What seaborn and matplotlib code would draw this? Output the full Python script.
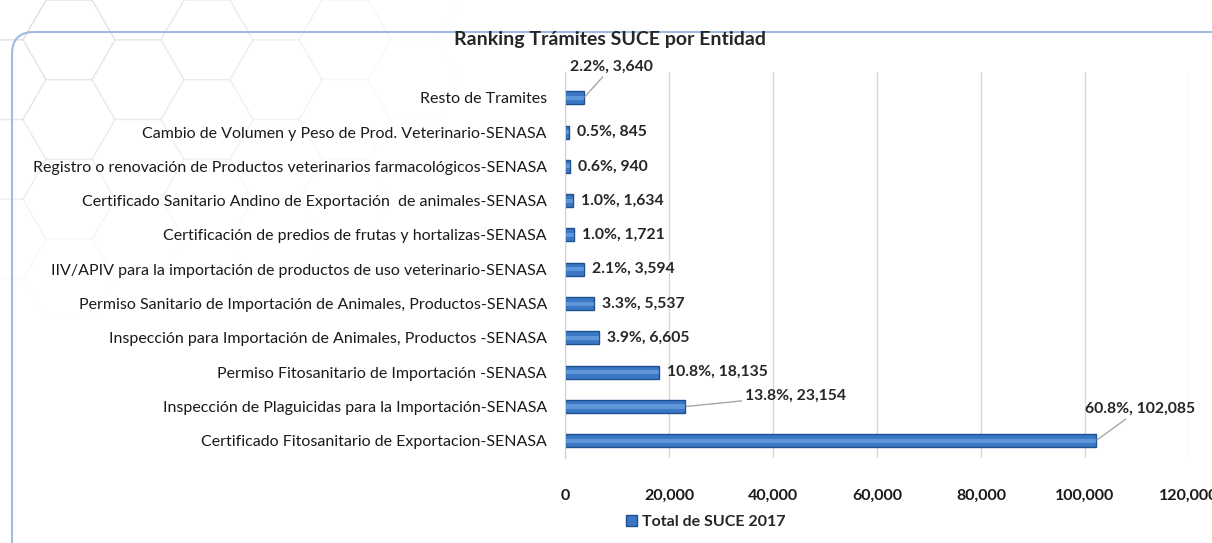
import matplotlib
matplotlib.use('Agg')
import matplotlib.pyplot as plt
import seaborn as sns
import pandas as pd
import numpy as np
from matplotlib.patches import FancyBboxPatch, RegularPolygon, Patch

# Datos del ranking (de arriba hacia abajo)
tramites = [
    'Resto de Tramites',
    'Cambio de Volumen y Peso de Prod. Veterinario-SENASA',
    'Registro o renovación de Productos veterinarios farmacológicos-SENASA',
    'Certificado Sanitario Andino de Exportación  de animales-SENASA',
    'Certificación de predios de frutas y hortalizas-SENASA',
    'IIV/APIV para la importación de productos de uso veterinario-SENASA',
    'Permiso Sanitario de Importación de Animales, Productos-SENASA',
    'Inspección para Importación de Animales, Productos -SENASA',
    'Permiso Fitosanitario de Importación -SENASA',
    'Inspección de Plaguicidas para la Importación-SENASA',
    'Certificado Fitosanitario de Exportacion-SENASA',
]
totales = [3640, 845, 940, 1634, 1721, 3594, 5537, 6605, 18135, 23154, 102085]
porcentajes = [2.2, 0.5, 0.6, 1.0, 1.0, 2.1, 3.3, 3.9, 10.8, 13.8, 60.8]
ticks_x = [0, 20000, 40000, 60000, 80000, 100000, 120000]
serie = 'Total de SUCE 2017'
titulo = 'Ranking Trámites SUCE por Entidad'

df = pd.DataFrame({'Tramite': tramites, 'Total': totales, 'Pct': porcentajes})

sns.set_style('white')
plt.rcParams['font.family'] = ['Lato', 'DejaVu Sans']

W, H = 1212, 543
azul = '#3a77c4'
azul_claro = '#7fb0e8'
azul_borde = '#1f4f8f'

fig = plt.figure(figsize=(W / 100, H / 100), dpi=100)

# Fondo: hexágonos tenues y marco redondeado
bg = fig.add_axes([0, 0, 1, 1], zorder=-1)
bg.set_xlim(0, W)
bg.set_ylim(H, 0)
bg.axis('off')
r = 46
for i in range(-1, 8):
    for j in range(-1, 6):
        cx = i * 1.5 * r
        cy = j * np.sqrt(3) * r + (i % 2) * np.sqrt(3) * r / 2
        d = np.hypot(cx * 0.9, cy * 1.4)
        if d > 420:
            continue
        a = 0.55 * (1 - d / 420)
        bg.add_patch(RegularPolygon((cx, cy), 6, radius=r, orientation=np.pi / 6,
                                    fill=False, ec='#d8d8d8', lw=1, alpha=a))
bg.add_patch(FancyBboxPatch((12, 32), 1300, 600, boxstyle='round,pad=0,rounding_size=22',
                            fc='none', ec='#9dbbe3', lw=1.5))

# Gráfico de barras horizontales
ax = fig.add_axes([565 / W, 1 - 458 / H, (1189 - 565) / W, (458 - 72) / H])
sns.barplot(data=df, y='Tramite', x='Total', orient='h', color=azul, saturation=1,
            edgecolor=azul_borde, linewidth=1, width=0.38, ax=ax)
# brillo central para dar volumen a las barras
sns.barplot(data=df, y='Tramite', x='Total', orient='h', color=azul_claro, saturation=1,
            linewidth=0, width=0.12, ax=ax, alpha=0.55)
ax.set_facecolor('none')
ax.set_xlim(0, 120000)
ax.set_ylim(10.5, -0.75)
ax.set_xticks(ticks_x)
ax.set_xticklabels([f'{v:,}' for v in ticks_x], fontweight='bold', fontsize=11.5)
ax.set_xlabel('')
ax.set_ylabel('')
ax.xaxis.grid(True, color='#d9d9d9', lw=1)
ax.set_axisbelow(True)
for s in ['top', 'right', 'bottom']:
    ax.spines[s].set_visible(False)
ax.spines['left'].set_color('#d0d0d0')
ax.tick_params(axis='y', length=0, pad=13, labelsize=11.5, labelcolor='#1a1a1a')
ax.tick_params(axis='x', length=0, pad=22, labelcolor='#1a1a1a')

# Etiquetas de datos
guias = {0: (28, 31), 9: (110, 11), 10: (44, 32)}
for i, (v, p) in enumerate(zip(totales, porcentajes)):
    txt = f'{p:.1f}%, {v:,}'
    if i in guias:
        ax.annotate(txt, xy=(v, i), xytext=guias[i], textcoords='offset pixels',
                    ha='center', va='center', fontsize=11.3, fontweight='bold',
                    arrowprops=dict(arrowstyle='-', color='#a6a6a6', lw=1, shrinkA=0, shrinkB=1))
    else:
        ax.annotate(txt, xy=(v, i), xytext=(8, 0), textcoords='offset pixels',
                    ha='left', va='center', fontsize=11.3, fontweight='bold')

fig.text(610 / W, 1 - 40 / H, titulo, ha='center', va='center', fontsize=14, fontweight='bold')

fig.legend(handles=[Patch(facecolor=azul, edgecolor=azul_borde, label=serie)],
           loc='center', bbox_to_anchor=(706 / W, 1 - 522 / H), frameon=False,
           prop={'weight': 'bold', 'size': 11.5}, handlelength=0.7, handleheight=0.7,
           handletextpad=0.3)

fig.savefig('out.png', dpi=100)
